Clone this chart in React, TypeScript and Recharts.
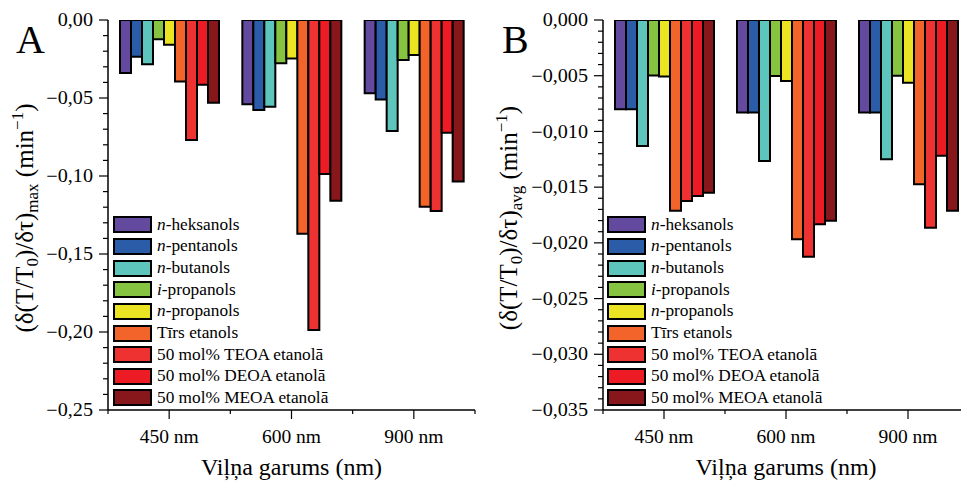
import React from 'react';
import { BarChart, Bar, XAxis, YAxis, Legend } from 'recharts';

const FONT = "'Liberation Serif', 'Times New Roman', serif";

const categories = ['450 nm', '600 nm', '900 nm'];
const seriesNames = [
  'n-heksanols',
  'n-pentanols',
  'n-butanols',
  'i-propanols',
  'n-propanols',
  'Tīrs etanols',
  '50 mol% TEOA etanolā',
  '50 mol% DEOA etanolā',
  '50 mol% MEOA etanolā',
];
const seriesColors = ['#634a9e', '#2a5ca8', '#5ec5bd', '#85c341', '#ebe422', '#f26429', '#ee3131', '#ed1c24', '#87171a'];

// Panel A: (δ(T/T0)/δτ)max
const maxHeksanols = [-0.034, -0.054, -0.047];
const maxPentanols = [-0.0235, -0.0577, -0.051];
const maxButanols = [-0.0284, -0.0556, -0.0712];
const maxIPropanols = [-0.0124, -0.0278, -0.0256];
const maxNPropanols = [-0.0158, -0.0246, -0.0224];
const maxEtanols = [-0.0395, -0.137, -0.1197];
const maxTEOA = [-0.077, -0.1987, -0.1224];
const maxDEOA = [-0.0415, -0.0987, -0.0722];
const maxMEOA = [-0.053, -0.1158, -0.1036];

// Panel B: (δ(T/T0)/δτ)avg
const avgHeksanols = [-0.008, -0.0083, -0.0083];
const avgPentanols = [-0.008, -0.0083, -0.0083];
const avgButanols = [-0.0113, -0.01265, -0.0125];
const avgIPropanols = [-0.00497, -0.00503, -0.005];
const avgNPropanols = [-0.00506, -0.00547, -0.00563];
const avgEtanols = [-0.01711, -0.01968, -0.01475];
const avgTEOA = [-0.01624, -0.02124, -0.01864];
const avgDEOA = [-0.0158, -0.01833, -0.01218];
const avgMEOA = [-0.0155, -0.01801, -0.01711];

const yTicksA = [0, -0.05, -0.1, -0.15, -0.2, -0.25];
const yTicksB = [0, -0.005, -0.01, -0.015, -0.02, -0.025, -0.03, -0.035];

const seriesA = [maxHeksanols, maxPentanols, maxButanols, maxIPropanols, maxNPropanols, maxEtanols, maxTEOA, maxDEOA, maxMEOA];
const seriesB = [avgHeksanols, avgPentanols, avgButanols, avgIPropanols, avgNPropanols, avgEtanols, avgTEOA, avgDEOA, avgMEOA];

const buildRows = (series: number[][]) =>
  categories.map((c, i) => {
    const row: Record<string, any> = { name: c };
    series.forEach((s, k) => {
      row[`s${k}`] = s[i];
    });
    return row;
  });

const buildMinor = (majors: number[], parts: number) => {
  const out: number[] = [];
  for (let i = 0; i < majors.length - 1; i++) {
    const step = (majors[i + 1] - majors[i]) / parts;
    for (let j = 1; j < parts; j++) out.push(majors[i] + step * j);
  }
  return out;
};

const fmt = (v: number, d: number) => {
  const s = Math.abs(v) < 1e-12 ? (0).toFixed(d) : v.toFixed(d);
  return s.replace('-', '\u2212').replace('.', ',');
};

const YTick = (props: any) => {
  const { x, y, payload, majors, decimals } = props;
  const v = payload.value;
  const major = majors.some((m: number) => Math.abs(m - v) < 1e-9);
  return (
    <g>
      <line x1={x - (major ? 9 : 5)} x2={x} y1={y} y2={y} stroke="#000" strokeWidth={1.2} />
      {major && (
        <text
          transform={`translate(${x - 15},${y}) scale(1.12,1)`}
          textAnchor="end"
          dy="0.34em"
          fontSize={18}
          fontFamily={FONT}
          fill="#000"
        >
          {fmt(v, decimals)}
        </text>
      )}
    </g>
  );
};

const XTick = (props: any) => {
  const { x, y, payload, index, band } = props;
  return (
    <g>
      <line x1={x} x2={x} y1={y} y2={y + 9} stroke="#000" strokeWidth={1.2} />
      <line x1={x - band / 2} x2={x - band / 2} y1={y} y2={y + 4} stroke="#000" strokeWidth={1.2} />
      {index === categories.length - 1 && (
        <line x1={x + band / 2} x2={x + band / 2} y1={y} y2={y + 4} stroke="#000" strokeWidth={1.2} />
      )}
      <text x={x} y={y + 33} textAnchor="middle" fontSize={19.5} fontFamily={FONT} fill="#000">
        {payload.value}
      </text>
    </g>
  );
};

const LegendContent = (props: any) => {
  const payload = [...(props.payload || [])].sort(
    (a: any, b: any) => seriesNames.indexOf(a.value) - seriesNames.indexOf(b.value)
  );
  return (
    <div style={{ fontFamily: FONT, fontSize: 17.3, color: '#000' }}>
      {payload.map((e: any) => {
        const m = /^([ni])-(.*)$/.exec(e.value);
        return (
          <div key={e.value} style={{ height: 21.65, display: 'flex', alignItems: 'center', whiteSpace: 'nowrap' }}>
            <div
              style={{
                width: 39,
                height: 17,
                boxSizing: 'border-box',
                border: '2px solid #000',
                background: e.color,
                marginRight: 5,
                flex: 'none',
              }}
            />
            <span>
              {m ? (
                <>
                  <i>{m[1]}</i>-{m[2]}
                </>
              ) : (
                e.value
              )}
            </span>
          </div>
        );
      })}
    </div>
  );
};

type PanelProps = {
  series: number[][];
  majors: number[];
  decimals: number;
  width: number;
  yAxisWidth: number;
  marginRight: number;
  sub: string;
  letter: string;
  letterX: number;
  titleX: number;
  legendLeft: number;
};

const Panel = (p: PanelProps) => {
  const data = buildRows(p.series);
  const domain: [number, number] = [p.majors[p.majors.length - 1], 0];
  const allTicks = [...p.majors, ...buildMinor(p.majors, 5)];
  const plotW = p.width - p.yAxisWidth - p.marginRight;
  const band = plotW / categories.length;
  const titleY = 218;
  return (
    <BarChart
      width={p.width}
      height={485}
      data={data}
      margin={{ top: 20, right: p.marginRight, bottom: 0, left: 0 }}
      barGap={0}
      barCategoryGap={12}
    >
      <XAxis
        dataKey="name"
        height={75}
        interval={0}
        tickSize={0}
        tickMargin={0}
        tickLine={false}
        axisLine={{ stroke: '#000', strokeWidth: 1.5 }}
        tick={(tp: any) => <XTick {...tp} band={band} />}
        label={(lp: any) => {
          const vb = lp.viewBox || {};
          return (
            <text
              x={vb.x + vb.width / 2}
              y={475}
              textAnchor="middle"
              fontSize={24}
              fontFamily={FONT}
              fill="#000"
            >
              Viļņa garums (nm)
            </text>
          );
        }}
      />
      <XAxis
        xAxisId="top"
        orientation="top"
        dataKey="name"
        height={0}
        tick={false}
        tickLine={false}
        axisLine={{ stroke: '#444', strokeWidth: 1 }}
      />
      <YAxis
        type="number"
        domain={domain}
        allowDataOverflow
        ticks={allTicks}
        interval={0}
        width={p.yAxisWidth}
        tickSize={0}
        tickMargin={0}
        tickLine={false}
        axisLine={{ stroke: '#000', strokeWidth: 1.5 }}
        tick={(tp: any) => <YTick {...tp} majors={p.majors} decimals={p.decimals} />}
        label={() => (
          <g>
            <text x={p.letterX} y={53} fontSize={40} fontFamily={FONT} fill="#000">
              {p.letter}
            </text>
            <text
              x={p.titleX}
              y={titleY}
              transform={`rotate(-90, ${p.titleX}, ${titleY})`}
              textAnchor="middle"
              fontSize={25}
              fontFamily={FONT}
              fill="#000"
            >
              <tspan>(δ(T/T</tspan>
              <tspan dy={5} fontSize={17}>0</tspan>
              <tspan dy={-5}>)/δτ)</tspan>
              <tspan dy={5} fontSize={17}>{p.sub}</tspan>
              <tspan dy={-5}> (min</tspan>
              <tspan dy={-10} fontSize={17}>−1</tspan>
              <tspan dy={10}>)</tspan>
            </text>
          </g>
        )}
      />
      <YAxis
        yAxisId="right"
        orientation="right"
        type="number"
        domain={domain}
        allowDataOverflow
        width={0}
        tick={false}
        tickLine={false}
        axisLine={{ stroke: '#444', strokeWidth: 1 }}
      />
      {seriesNames.map((n, i) => (
        <Bar
          key={n}
          dataKey={`s${i}`}
          name={n}
          fill={seriesColors[i]}
          stroke="#000"
          strokeWidth={2}
          isAnimationActive={false}
        />
      ))}
      <Legend
        layout="vertical"
        align="center"
        verticalAlign="middle"
        wrapperStyle={{ left: p.legendLeft, top: 214, width: 240, height: 196 }}
        content={LegendContent}
      />
    </BarChart>
  );
};

export default function App() {
  return (
    <div
      style={{
        position: 'absolute',
        left: 0,
        top: 0,
        width: 961,
        height: 485,
        overflow: 'hidden',
        background: '#fff',
      }}
    >
      <div style={{ position: 'absolute', left: 0, top: 0 }}>
        <Panel
          series={seriesA}
          majors={yTicksA}
          decimals={2}
          width={480}
          yAxisWidth={108}
          marginRight={5}
          sub="max"
          letter="A"
          letterX={16}
          titleX={33}
          legendLeft={113}
        />
      </div>
      <div style={{ position: 'absolute', left: 480, top: 0 }}>
        <Panel
          series={seriesB}
          majors={yTicksB}
          decimals={3}
          width={495}
          yAxisWidth={123}
          marginRight={6}
          sub="avg"
          letter="B"
          letterX={22}
          titleX={37}
          legendLeft={127}
        />
      </div>
    </div>
  );
}
